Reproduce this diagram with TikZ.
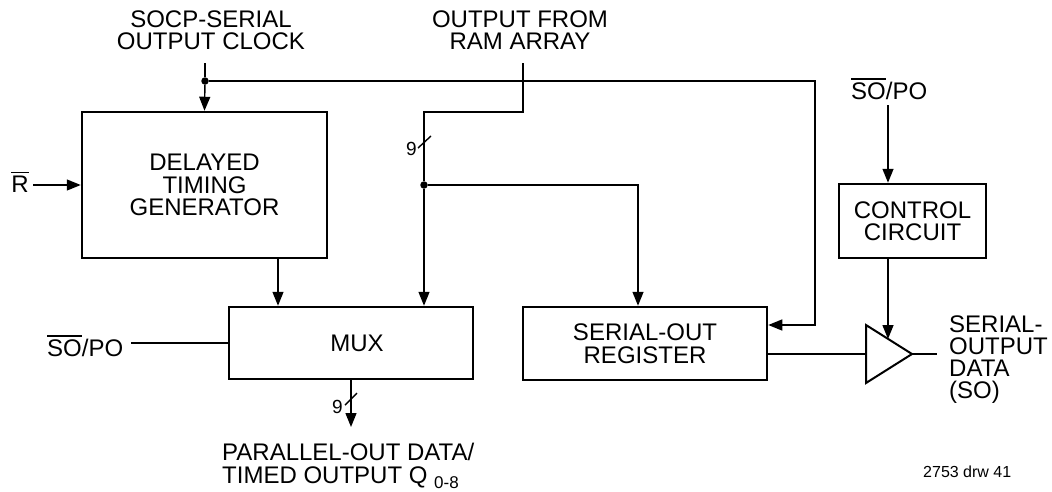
\documentclass[tikz,border=0pt]{standalone}
\usepackage{fontspec}
\setmainfont{Liberation Sans}
\usetikzlibrary{arrows.meta,calc}
\newcommand\ovl[1]{\leavevmode\vbox{\hrule height 1.6pt\kern 2.2pt\hbox{#1}}}
\begin{document}
\begin{tikzpicture}[x=1pt,y=-1pt,
  txt/.style={font=\fontsize{24}{22.5}\selectfont, inner sep=0pt, align=center},
  blk/.style={draw, line width=2.5pt, txt},
  wire/.style={line width=1.4pt},
  arr/.style={wire, -{Triangle[length=14pt,width=11pt]}},
  dot/.style={circle, fill, inner sep=0pt, minimum size=7.5pt},
  small/.style={font=\fontsize{19}{19}\selectfont, inner sep=0pt}]
\useasboundingbox (0,0) rectangle (1052,491);

% blocks
\node[blk, minimum width=245pt, minimum height=146pt] (dtg) at (204.5,185) {DELAYED\\TIMING\\GENERATOR};
\node[blk, minimum width=244pt, minimum height=72pt] (mux) at (351,343) {\hspace{12pt}MUX};
\node[blk, minimum width=244pt, minimum height=73pt] (reg) at (645,343.5) {SERIAL-OUT\\REGISTER};
\node[blk, minimum width=147pt, minimum height=74pt] (ctrl) at (912.5,221) {CONTROL\\CIRCUIT};

% buffer
\coordinate (bufT) at (866,325);
\coordinate (bufB) at (866,383);
\coordinate (bufO) at (912,354);
\coordinate (bufL) at (866,354);
\coordinate (bufIn) at (888,339);
\draw[line width=2pt, line join=miter] (bufT) -- (bufO) -- (bufB) -- cycle;

% labels
\node[txt] (socp) at (211,30) {SOCP-SERIAL\\OUTPUT CLOCK};
\node[txt] (ram) at (520,30) {OUTPUT FROM\\RAM ARRAY};
\node[txt, anchor=base] (rbar) at (20,192) {\ovl{R}};
\node[txt, anchor=base west] (sopo1) at (47,356) {\ovl{SO}/PO};
\node[txt, anchor=base west] (sopo2) at (851,99) {\ovl{SO}/PO};
\node[txt, anchor=north west, align=left] (pout) at (222,443)
  {PARALLEL-OUT DATA/\\TIMED OUTPUT Q \raisebox{-5pt}{\fontsize{17}{17}\selectfont 0-8}};
\node[txt, font=\fontsize{24}{21.7}\selectfont, anchor=north west, align=left] (sout) at (949,316)
  {SERIAL-\\OUTPUT\\DATA\\(SO)};
\node[font=\fontsize{16}{16}\selectfont, inner sep=0pt, anchor=base west] (drw) at (923,477) {2753 drw 41};
\node[small] (n9a) at (411.5,149) {9};
\node[small] (n9b) at (337.5,406.5) {9};

% clock
\coordinate (socpTop) at (205,63);
\node[dot] (clk) at (205,81) {};
\coordinate (clkR) at (815,325);
\draw[wire] (socpTop) -- (clk);
\draw[arr] (clk) -- (dtg.north);
\draw[arr] (clk) -| (clkR) -- (reg.east |- clkR);

% RAM data
\coordinate (ramTop) at (523,63);
\node[dot] (data) at (424,185) {};
\draw[wire] (ramTop) -- (523,112) -| (data);
\draw[wire] (418,148) -- (431,136);
\draw[arr] (data) -- (mux.north -| data);
\draw[arr] (data) -| (638,0 |- reg.north);

% DTG to MUX
\draw[arr] (278,0 |- dtg.south) -- (278,0 |- mux.north);

% R input
\coordinate (rIn) at (33,185);
\draw[arr] (rIn) -- (dtg.west);

% SO/PO to MUX
\coordinate (sopoL) at (131,343);
\draw[wire] (sopoL) -- (mux.west);

% MUX output
\coordinate (qout) at (351,427);
\draw[arr] (mux.south -| qout) -- (qout);
\draw[wire] (345,405) -- (357,393);

% control
\coordinate (sopoT) at (888,105);
\draw[arr] (sopoT) -- (ctrl.north -| sopoT);
\draw[arr] (ctrl.south -| bufIn) -- (bufIn);

% register to buffer, output
\coordinate (soOut) at (937,354);
\draw[wire] (reg.east |- bufL) -- (bufL);
\draw[wire] (bufO) -- (soOut);
\end{tikzpicture}
\end{document}
